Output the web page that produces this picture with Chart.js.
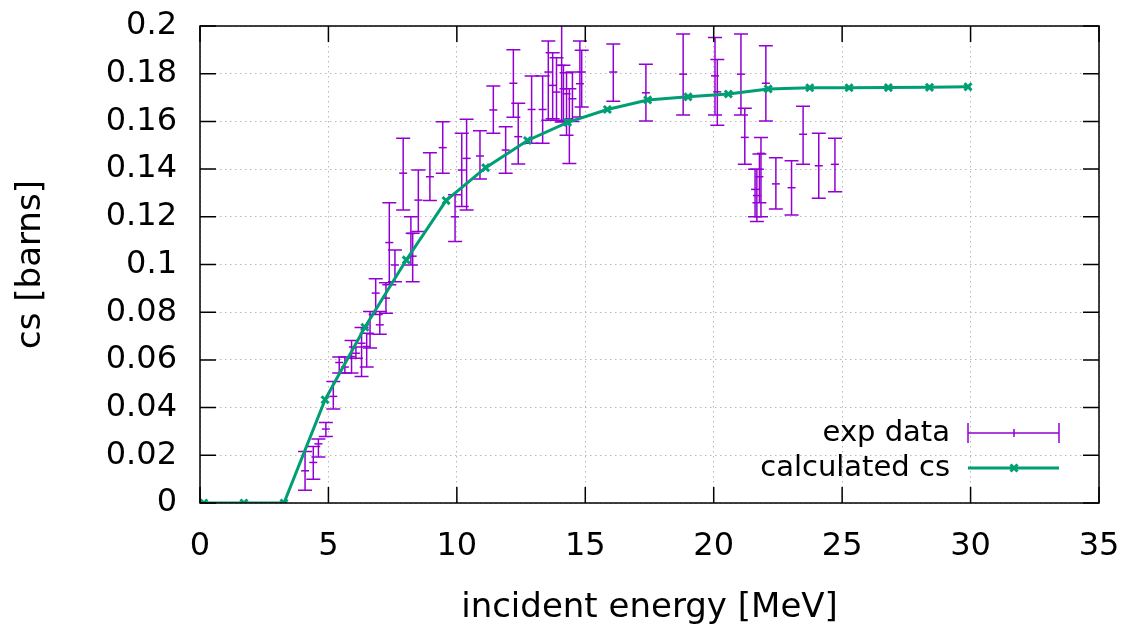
<!DOCTYPE html>
<html>
<head>
<meta charset="utf-8">
<script src="https://cdn.jsdelivr.net/npm/chart.js@4.4.1/dist/chart.umd.min.js"></script>
<style>
  html, body { margin: 0; padding: 0; background: #fff; }
  #wrap { width: 1128px; height: 627px; }
</style>
</head>
<body>
<div id="wrap"><canvas id="csChart" width="1128" height="627"></canvas></div>
<script>
// measured points with their error bar limits
const expEnergy = [4.09, 4.41, 4.61, 4.90, 5.19, 5.42, 5.64, 5.90, 6.07, 6.29,
    6.49, 6.62, 6.84, 7.00, 7.24, 7.37, 7.59, 7.91, 8.21, 8.28,
    8.50, 8.95, 9.45, 9.93, 10.19, 10.38, 10.90, 11.42, 11.90, 12.20,
    12.39, 12.91, 13.34, 13.56, 13.73, 13.88, 14.08, 14.15, 14.27, 14.38,
    14.50, 14.79, 14.86, 16.09, 17.36, 18.81, 20.05, 20.14, 21.06, 21.21,
    21.61, 21.68, 21.78, 21.84, 22.03, 22.42, 23.03, 23.48, 24.09, 24.72];
const expCs = [0.0135, 0.0170, 0.0248, 0.0310, 0.0447, 0.0589, 0.0570, 0.0614, 0.0628, 0.0670,
    0.0656, 0.0709, 0.0880, 0.0747, 0.0859, 0.1092, 0.0998, 0.1383, 0.1130, 0.1035,
    0.1270, 0.1368, 0.1490, 0.1200, 0.1396, 0.1445, 0.1455, 0.1648, 0.1480, 0.1760,
    0.1536, 0.1650, 0.1650, 0.1807, 0.1751, 0.1723, 0.1835, 0.1737, 0.1716, 0.1611,
    0.1695, 0.1758, 0.1807, 0.1807, 0.1720, 0.1798, 0.1791, 0.1724, 0.1798, 0.1533,
    0.1315, 0.1289, 0.1368, 0.1466, 0.1760, 0.1338, 0.1322, 0.1546, 0.1414, 0.1420];
const expLow = [0.0053, 0.0100, 0.0193, 0.0279, 0.0394, 0.0545, 0.0545, 0.0545, 0.0607, 0.0530,
    0.0570, 0.0650, 0.0790, 0.0708, 0.0796, 0.0915, 0.0928, 0.1229, 0.0998, 0.0928,
    0.1138, 0.1268, 0.1383, 0.1096, 0.1243, 0.1229, 0.1359, 0.1550, 0.1383, 0.1617,
    0.1421, 0.1508, 0.1508, 0.1605, 0.1611, 0.1605, 0.1597, 0.1600, 0.1542, 0.1423,
    0.1600, 0.1618, 0.1660, 0.1685, 0.1602, 0.1627, 0.1627, 0.1584, 0.1627, 0.1420,
    0.1200, 0.1180, 0.1259, 0.1200, 0.1602, 0.1233, 0.1208, 0.1420, 0.1278, 0.1305];
const expHigh = [0.0216, 0.0237, 0.0268, 0.0338, 0.0509, 0.0612, 0.0612, 0.0681, 0.0654, 0.0736,
    0.0712, 0.0803, 0.0940, 0.0803, 0.0924, 0.1259, 0.1061, 0.1529, 0.1200, 0.1131,
    0.1396, 0.1469, 0.1599, 0.1292, 0.1550, 0.1609, 0.1561, 0.1748, 0.1578, 0.1900,
    0.1676, 0.1790, 0.1790, 0.1937, 0.1888, 0.1867, 0.2100, 0.1835, 0.1804, 0.1737,
    0.1807, 0.1937, 0.1898, 0.1925, 0.1840, 0.1966, 0.1952, 0.1860, 0.1966, 0.1655,
    0.1399, 0.1399, 0.1463, 0.1533, 0.1917, 0.1448, 0.1435, 0.1664, 0.1550, 0.1529];

// calculated cross section
const calcEnergy = [0.15, 1.71, 3.27, 4.87, 6.42, 8.03, 9.58, 11.12, 12.75, 14.31,
    15.86, 17.43, 19.00, 20.57, 22.12, 23.74, 25.27, 26.80, 28.40, 29.90];
const calcCs = [0, 0, 0, 0.0433, 0.0737, 0.1019, 0.1268, 0.1406, 0.1520, 0.1596,
    0.1650, 0.1690, 0.1703, 0.1715, 0.1736, 0.1741, 0.1741, 0.1742, 0.1743, 0.1745];

const xTickValues = [0, 5, 10, 15, 20, 25, 30, 35];
const yTickValues = [0, 0.02, 0.04, 0.06, 0.08, 0.1, 0.12, 0.14, 0.16, 0.18, 0.2];

const purple = "#9400d3";
const green = "#009e73";
const font = "DejaVu Sans";

const errorBars = {
    id: "errorBars",
    afterDatasetDraw(chart, args) {
        if (args.index !== 0) return;
        const {ctx, chartArea: a} = chart;
        const y = chart.scales.y;
        ctx.save();
        ctx.beginPath();
        ctx.rect(a.left, a.top, a.right - a.left, a.bottom - a.top);
        ctx.clip();
        ctx.strokeStyle = purple;
        ctx.lineWidth = 1.5;
        args.meta.data.forEach((pt, i) => {
            const lo = y.getPixelForValue(expLow[i]);
            const hi = y.getPixelForValue(expHigh[i]);
            ctx.beginPath();
            ctx.moveTo(pt.x, lo);
            ctx.lineTo(pt.x, hi);
            ctx.moveTo(pt.x - 7, lo);
            ctx.lineTo(pt.x + 7, lo);
            ctx.moveTo(pt.x - 7, hi);
            ctx.lineTo(pt.x + 7, hi);
            ctx.stroke();
        });
        ctx.restore();
    }
};

// gnuplot style frame with inward ticks on all four sides
const frame = {
    id: "frame",
    afterDraw(chart) {
        const {ctx, chartArea: a} = chart;
        const xs = chart.scales.x, ys = chart.scales.y;
        const len = 16;
        ctx.save();
        ctx.strokeStyle = "#000";
        ctx.lineWidth = 1.5;
        ctx.beginPath();
        xTickValues.forEach(v => {
            const px = xs.getPixelForValue(v);
            ctx.moveTo(px, a.bottom);
            ctx.lineTo(px, a.bottom - len);
            ctx.moveTo(px, a.top);
            ctx.lineTo(px, a.top + len);
        });
        yTickValues.forEach(v => {
            const py = ys.getPixelForValue(v);
            ctx.moveTo(a.left, py);
            ctx.lineTo(a.left + len, py);
            ctx.moveTo(a.right, py);
            ctx.lineTo(a.right - len, py);
        });
        ctx.stroke();
        ctx.strokeRect(a.left, a.top, a.right - a.left, a.bottom - a.top);
        ctx.restore();
    }
};

const keyBox = {
    id: "keyBox",
    afterDraw(chart) {
        const ctx = chart.ctx;
        const ds = chart.data.datasets;
        const textRight = 950, x1 = 968, x2 = 1059, xm = 1014;
        const row1 = 433, row2 = 468;
        ctx.save();
        ctx.font = "29px '" + font + "'";
        ctx.fillStyle = "#000";
        ctx.textAlign = "right";
        ctx.textBaseline = "middle";
        ctx.fillText(ds[0].label, textRight, row1);
        ctx.fillText(ds[1].label, textRight, row2);

        ctx.strokeStyle = purple;
        ctx.lineWidth = 1.5;
        ctx.beginPath();
        ctx.moveTo(x1, row1); ctx.lineTo(x2, row1);
        ctx.moveTo(x1, row1 - 10); ctx.lineTo(x1, row1 + 10);
        ctx.moveTo(x2, row1 - 10); ctx.lineTo(x2, row1 + 10);
        ctx.moveTo(xm, row1 - 4); ctx.lineTo(xm, row1 + 4);
        ctx.stroke();

        ctx.strokeStyle = green;
        ctx.lineWidth = 3;
        ctx.beginPath();
        ctx.moveTo(x1, row2); ctx.lineTo(x2, row2);
        ctx.stroke();
        ctx.beginPath();
        ctx.moveTo(xm - 3.5, row2 - 3.5); ctx.lineTo(xm + 3.5, row2 + 3.5);
        ctx.moveTo(xm - 3.5, row2 + 3.5); ctx.lineTo(xm + 3.5, row2 - 3.5);
        ctx.stroke();
        ctx.restore();
    }
};

const ctx = document.getElementById("csChart");

new Chart(ctx, {
    type: "scatter",
    data: {
        datasets: [{
            label: "exp data",
            data: expEnergy.map((e, i) => ({x: e, y: expCs[i]})),
            showLine: false,
            pointStyle: "line",
            pointRadius: 4,
            pointBorderWidth: 1.5,
            borderColor: purple,
            backgroundColor: purple,
            order: 2
        }, {
            label: "calculated cs",
            data: calcEnergy.map((e, i) => ({x: e, y: calcCs[i]})),
            showLine: true,
            tension: 0,
            borderColor: green,
            backgroundColor: green,
            borderWidth: 3,
            pointStyle: "crossRot",
            pointRadius: 5,
            pointBorderWidth: 3,
            order: 1
        }]
    },
    options: {
        responsive: false,
        animation: false,
        events: [],
        layout: {padding: {top: 26, right: 29, left: 0, bottom: 0}},
        plugins: {
            legend: {display: false},
            tooltip: {enabled: false}
        },
        scales: {
            x: {
                type: "linear",
                min: 0,
                max: 35,
                afterBuildTicks: s => { s.ticks = xTickValues.map(v => ({value: v})); },
                afterFit: s => {
                    s.height = 124;
                    s.paddingLeft = 0;
                    s.paddingRight = 0;
                },
                grid: {color: "#b8b8b8", lineWidth: 1, drawTicks: false},
                border: {display: false, dash: [1.5, 3.5]},
                ticks: {
                    color: "#000",
                    padding: 24,
                    font: {family: font, size: 32},
                    callback: v => String(v)
                },
                title: {
                    display: true,
                    text: "incident energy [MeV]",
                    color: "#000",
                    font: {family: font, size: 34, lineHeight: 1},
                    padding: {top: 0, bottom: 2}
                }
            },
            y: {
                type: "linear",
                min: 0,
                max: 0.2,
                afterBuildTicks: s => { s.ticks = yTickValues.map(v => ({value: v})); },
                afterFit: s => {
                    s.width = 200;
                    s.paddingTop = 0;
                    s.paddingBottom = 0;
                },
                grid: {color: "#b8b8b8", lineWidth: 1, drawTicks: false},
                border: {display: false, dash: [1.5, 3.5]},
                ticks: {
                    color: "#000",
                    padding: 23,
                    font: {family: font, size: 32},
                    callback: v => String(+v.toFixed(2))
                },
                title: {
                    display: true,
                    text: "cs [barns]",
                    color: "#000",
                    font: {family: font, size: 34, lineHeight: 1},
                    padding: {top: 14, bottom: 0}
                }
            }
        }
    },
    plugins: [errorBars, frame, keyBox]
});
</script>
</body>
</html>
